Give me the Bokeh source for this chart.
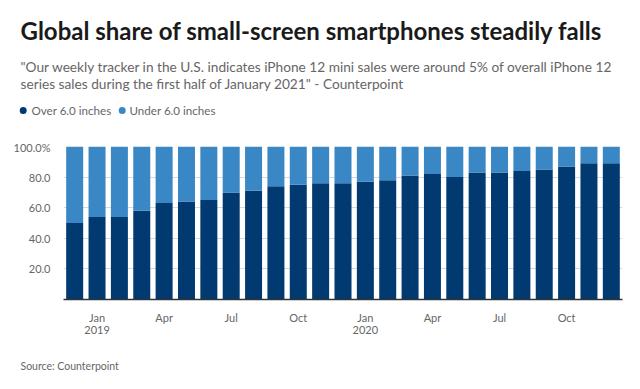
from bokeh.plotting import figure
from bokeh.models import FixedTicker, ColumnDataSource, Range1d, LinearAxis
from bokeh.core.properties import value
from bokeh.embed import file_html
from bokeh.resources import INLINE

# ---- data ----
months = ["Dec 2018", "Jan 2019", "Feb 2019", "Mar 2019", "Apr 2019", "May 2019", "Jun 2019",
          "Jul 2019", "Aug 2019", "Sep 2019", "Oct 2019", "Nov 2019", "Dec 2019",
          "Jan 2020", "Feb 2020", "Mar 2020", "Apr 2020", "May 2020", "Jun 2020",
          "Jul 2020", "Aug 2020", "Sep 2020", "Oct 2020", "Nov 2020", "Dec 2020"]
over_6 = [50, 54, 54, 58, 63, 64, 65, 70, 71, 74, 75, 76, 76,
          77, 78, 81, 82, 80, 83, 83, 84, 85, 87, 89, 89]
under_6 = [50, 46, 46, 42, 37, 36, 35, 30, 29, 26, 25, 24, 24,
           23, 22, 19, 18, 20, 17, 17, 16, 15, 13, 11, 11]
month_tick_pos = [1, 4, 7, 10, 13, 16, 19, 22]
month_tick_labels = ["Jan", "Apr", "Jul", "Oct", "Jan", "Apr", "Jul", "Oct"]
year_tick_pos = [1, 13]
year_tick_labels = ["2019", "2020"]
y_ticks = [20, 40, 60, 80, 100]
y_tick_labels = ["20.0", "40.0", "60.0", "80.0", "100.0%"]

title_text = "Global share of small-screen smartphones steadily falls"
sub_lines = ["\"Our weekly tracker in the U.S. indicates iPhone 12 mini sales were around 5% of overall iPhone 12",
             "series sales during the first half of January 2021\" - Counterpoint"]
legend_labels = ["Over 6.0 inches", "Under 6.0 inches"]
source_text = "Source: Counterpoint"

DARK = "#003a70"
LIGHT = "#3a87c5"
GRAY = "#666666"
FONT = "Lato"
W = 624


def blank_fig(h):
    f = figure(width=W, height=h, output_backend="svg", toolbar_location=None, title=None,
               x_range=Range1d(0, W), y_range=Range1d(h, 0),
               x_axis_type=None, y_axis_type=None,
               min_border=0, min_border_left=0, min_border_right=0,
               min_border_top=0, min_border_bottom=0)
    f.grid.visible = False
    f.outline_line_color = None
    return f


# ---- header (title, subtitle, legend) ----
HEAD_H = 140
head = blank_fig(HEAD_H)
head.text(x=[20], y=[30], text=[title_text], text_font=value(FONT), text_font_size="24px",
          text_font_style="bold", text_color="#1a1a1a", text_baseline="middle")
head.text(x=[20, 20], y=[65.5, 83], text=sub_lines, text_font=value(FONT), text_font_size="13.7px",
          text_color=GRAY, text_baseline="middle")
head.scatter(x=[22.7, 121.7], y=[110, 110], marker="circle", size=7,
             fill_color=[DARK, LIGHT], line_color=None)
head.text(x=[31, 129], y=[110, 110], text=legend_labels, text_font=value(FONT),
          text_font_size="11.6px", text_color=GRAY, text_baseline="middle")

# ---- main chart ----
idx = list(range(len(months)))
top_total = [o + u for o, u in zip(over_6, under_6)]
src = ColumnDataSource(dict(x=idx, over=over_6, total=top_total, month=months))

p = figure(width=W, height=204, output_backend="svg", toolbar_location=None, title=None,
           x_range=(-0.5, len(months) - 0.5), y_range=(0, 100),
           min_border_left=63, min_border_right=2, min_border_top=6, min_border_bottom=45)
p.outline_line_color = None

p.vbar(x="x", bottom=0, top="over", width=0.76, source=src, fill_color=DARK, line_color=None)
p.vbar(x="x", bottom="over", top="total", width=0.76, source=src, fill_color=LIGHT, line_color=None)

p.xgrid.grid_line_color = None
p.ygrid.grid_line_color = "#d9d9d9"
p.ygrid.ticker = FixedTicker(ticks=y_ticks)
p.yaxis.ticker = FixedTicker(ticks=y_ticks)
p.yaxis.major_label_overrides = {t: l for t, l in zip(y_ticks, y_tick_labels)}
p.yaxis.axis_line_color = None
p.yaxis.major_tick_line_color = None
p.yaxis.minor_tick_line_color = None
p.yaxis.major_label_standoff = 7
p.yaxis.major_label_text_font = FONT
p.yaxis.major_label_text_font_size = "11px"
p.yaxis.major_label_text_color = GRAY

p.xaxis.ticker = FixedTicker(ticks=month_tick_pos)
p.xaxis.major_label_overrides = {t: l for t, l in zip(month_tick_pos, month_tick_labels)}
p.xaxis.axis_line_color = "#333333"
p.xaxis.axis_line_width = 1.5
p.xaxis.major_tick_line_color = None
p.xaxis.minor_tick_line_color = None
p.xaxis.major_label_standoff = 5
p.xaxis.major_label_text_font = FONT
p.xaxis.major_label_text_font_size = "11px"
p.xaxis.major_label_text_color = GRAY

year_axis = LinearAxis(ticker=FixedTicker(ticks=year_tick_pos),
                       major_label_overrides={t: l for t, l in zip(year_tick_pos, year_tick_labels)},
                       axis_line_color=None, major_tick_line_color=None, minor_tick_line_color=None,
                       major_label_standoff=-7, major_label_text_font=FONT,
                       major_label_text_font_size="11px", major_label_text_color=GRAY)
p.add_layout(year_axis, "below")

# ---- footer (source) ----
FOOT_H = 29
foot = blank_fig(FOOT_H)
foot.text(x=[20], y=[21], text=[source_text], text_font=value(FONT), text_font_size="10.5px",
          text_color=GRAY, text_baseline="middle")

open("out.html", "w").write(file_html([head, p, foot], INLINE))
